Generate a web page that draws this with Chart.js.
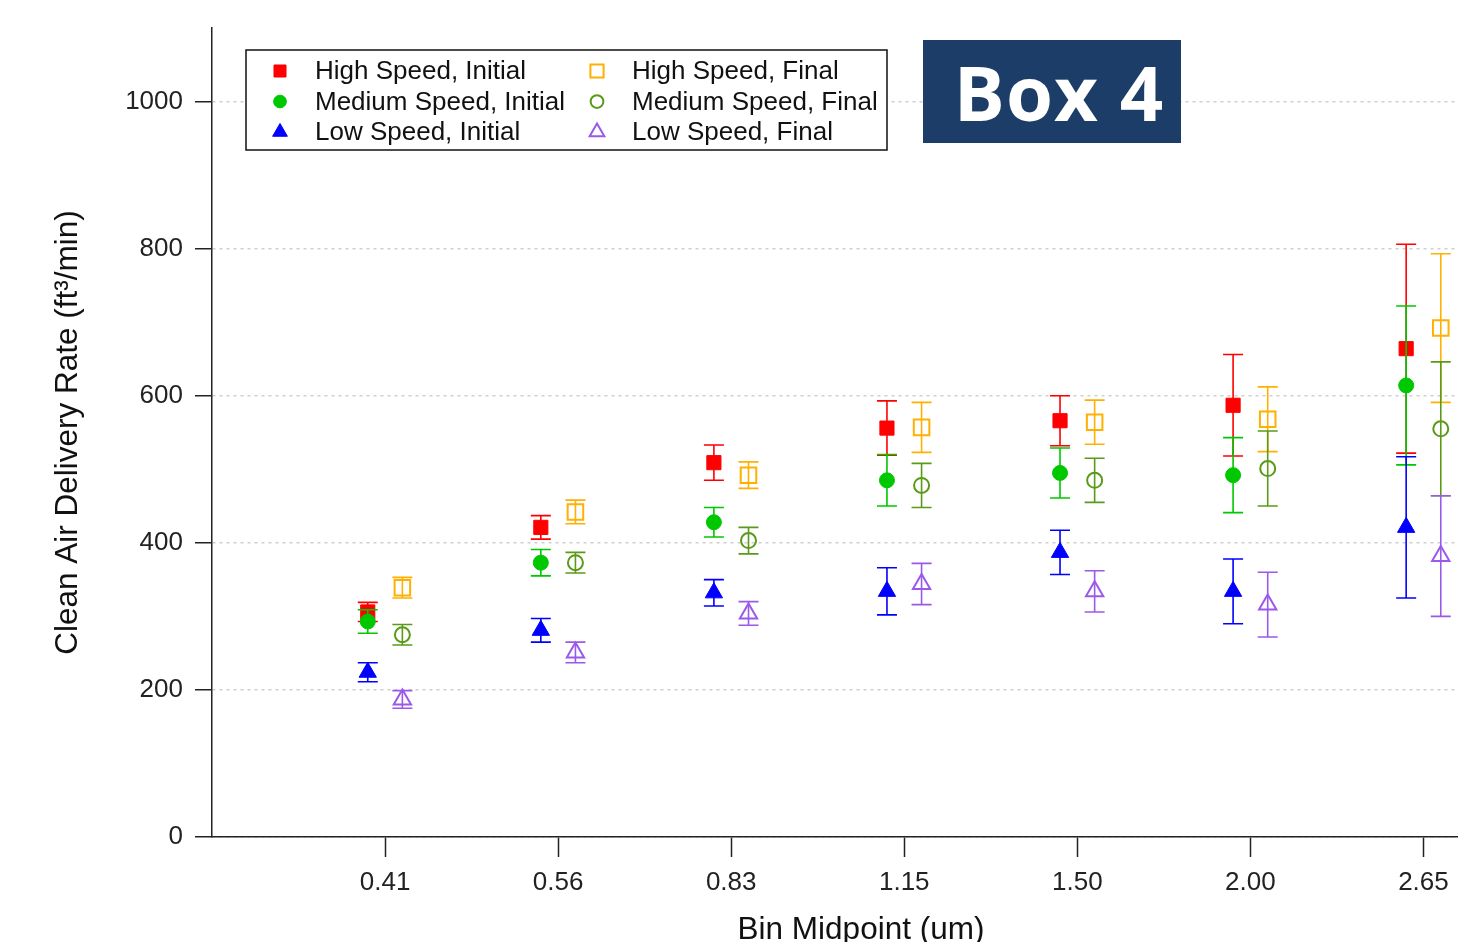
<!DOCTYPE html>
<html>
<head>
<meta charset="utf-8">
<script src="https://cdn.jsdelivr.net/npm/chart.js@4.4.0/dist/chart.umd.min.js"></script>
<style>
html, body { margin: 0; padding: 0; background: #fff; overflow: hidden; }
#wrap { position: relative; width: 1510px; height: 960px; }
#box4 {
    position: absolute; left: 923px; top: 40px; width: 258px; height: 103px;
    box-sizing: border-box; padding-left: 14px;
    background: #1b3d68; color: #fff;
    font: bold 76px "Open Sans", sans-serif;
    display: flex; align-items: center; justify-content: center;
    letter-spacing: 1px;
}
</style>
</head>
<body>
<div id="wrap">
    <canvas id="cadrChart" width="1510" height="960"></canvas>
    <div id="box4">Box 4</div>
</div>
<script>
// bin midpoints (um)
var binLabels = ['0.41', '0.56', '0.83', '1.15', '1.50', '2.00', '2.65'];
var yTickValues = [0, 200, 400, 600, 800, 1000];

// CADR values, with +/- error
var highInitial = [306, 421, 509, 556, 566, 587, 664];
var highInitialErr = [13, 16, 24, 37, 34, 69, 142];
var highFinal = [339, 442, 492, 557, 564, 568, 692];
var highFinalErr = [14, 16, 18, 34, 30, 44, 101];
var medInitial = [293, 373, 428, 485, 495, 492, 614];
var medInitialErr = [16, 18, 20, 35, 34, 51, 108];
var medFinal = [275, 373, 403, 478, 485, 501, 555];
var medFinalErr = [14, 14, 18, 30, 30, 51, 91];
var lowInitial = [224, 281, 332, 334, 387, 334, 421];
var lowInitialErr = [13, 16, 18, 32, 30, 44, 96];
var lowFinal = [187, 251, 304, 344, 334, 316, 382];
var lowFinalErr = [12, 14, 16, 28, 28, 44, 82];

var FONT = '"Liberation Sans", Arial, sans-serif';
Chart.defaults.font.family = FONT;

function points(values, shift) {
    return values.map(function(v, i) {
        return { x: i + 1 + shift, y: v };
    });
}

function series(label, values, errs, shift, style, radius, color, filled) {
    return {
        label: label,
        data: points(values, shift),
        errors: errs,
        errorColor: color,
        pointStyle: style,
        pointRadius: radius,
        pointHoverRadius: radius,
        backgroundColor: filled ? color : 'rgba(0,0,0,0)',
        borderColor: color,
        borderWidth: filled ? 1 : 2,
        showLine: false
    };
}

var RED = '#ff0000', ORANGE = '#ffb000', GREEN = '#00c800',
    OLIVE = '#5a9a18', BLUE = '#0000ff', PURPLE = '#9b59ea';

// order matches the 2-column legend, row by row
var datasets = [
    series('High Speed, Initial', highInitial, highInitialErr, -0.1, 'rect', 10, RED, true),
    series('High Speed, Final', highFinal, highFinalErr, 0.1, 'rect', 11, ORANGE, false),
    series('Medium Speed, Initial', medInitial, medInitialErr, -0.1, 'circle', 7.5, GREEN, true),
    series('Medium Speed, Final', medFinal, medFinalErr, 0.1, 'circle', 7.5, OLIVE, false),
    series('Low Speed, Initial', lowInitial, lowInitialErr, -0.1, 'triangle', 10, BLUE, true),
    series('Low Speed, Final', lowFinal, lowFinalErr, 0.1, 'triangle', 10, PURPLE, false)
];
// draw order: high under medium under low
datasets[0].order = 6; datasets[2].order = 5; datasets[4].order = 4;
datasets[1].order = 3; datasets[3].order = 2; datasets[5].order = 1;

var errorBarPlugin = {
    id: 'errorBars',
    beforeDatasetDraw: function(chart, args) {
        var ds = chart.data.datasets[args.index];
        var yScale = chart.scales.y;
        var c = chart.ctx;
        c.save();
        c.strokeStyle = ds.errorColor;
        c.lineWidth = 1.6;
        args.meta.data.forEach(function(pt, i) {
            var v = ds.data[i].y, e = ds.errors[i];
            var top = yScale.getPixelForValue(v + e);
            var bot = yScale.getPixelForValue(v - e);
            c.beginPath();
            c.moveTo(pt.x, top); c.lineTo(pt.x, bot);
            c.moveTo(pt.x - 10, top); c.lineTo(pt.x + 10, top);
            c.moveTo(pt.x - 10, bot); c.lineTo(pt.x + 10, bot);
            c.stroke();
        });
        c.restore();
    }
};

var legendPlugin = {
    id: 'boxLegend',
    afterDraw: function(chart) {
        var c = chart.ctx;
        var left = 246, top = 50, w = 641, h = 100;
        c.save();
        c.fillStyle = '#fff';
        c.fillRect(left, top, w, h);
        c.lineWidth = 1.5;
        c.strokeStyle = '#111';
        c.strokeRect(left, top, w, h);
        c.font = '26px ' + FONT;
        c.textBaseline = 'middle';
        chart.data.datasets.forEach(function(ds, k) {
            var row = Math.floor(k / 2), col = k % 2;
            var y = 71 + row * 30.5;
            var mx = col === 0 ? 280 : 597;
            c.fillStyle = ds.backgroundColor;
            c.strokeStyle = ds.borderColor;
            c.lineWidth = ds.borderWidth;
            Chart.helpers.drawPoint(c, {
                pointStyle: ds.pointStyle,
                radius: ds.pointRadius * 0.85,
                rotation: 0,
                borderWidth: ds.borderWidth
            }, mx, y);
            c.fillStyle = '#111';
            c.fillText(ds.label, mx + 35, y + 1);
        });
        c.restore();
    }
};

new Chart(document.getElementById('cadrChart'), {
    type: 'scatter',
    data: { datasets: datasets },
    plugins: [errorBarPlugin, legendPlugin],
    options: {
        responsive: false,
        animation: false,
        layout: { autoPadding: false, padding: { top: 28, right: 0, bottom: 0, left: 0 } },
        plugins: { legend: { display: false }, tooltip: { enabled: false } },
        scales: {
            x: {
                type: 'linear',
                min: 0,
                max: 7.5,
                afterBuildTicks: function(s) {
                    s.ticks = binLabels.map(function(_, i) { return { value: i + 1 }; });
                },
                afterFit: function(s) {
                    s.height = 123;
                    s.paddingLeft = 0;
                    s.paddingRight = 0;
                },
                ticks: {
                    callback: function(v, i) { return binLabels[i]; },
                    font: { size: 26 },
                    color: '#222',
                    padding: 10,
                    autoSkip: false,
                    maxRotation: 0
                },
                grid: { drawOnChartArea: false, tickLength: 20, tickColor: '#222', tickWidth: 1.5 },
                border: { color: '#222', width: 1.5 },
                title: {
                    display: true,
                    text: 'Bin Midpoint (um)',
                    font: { size: 31.5 },
                    color: '#111',
                    padding: { top: 0, bottom: 11 }
                }
            },
            y: {
                min: 0,
                max: 1100,
                afterBuildTicks: function(s) {
                    s.ticks = yTickValues.map(function(v) { return { value: v }; });
                },
                afterFit: function(s) { s.width = 212; },
                ticks: {
                    callback: function(v) { return String(v); },
                    font: { size: 26 },
                    color: '#222',
                    padding: 12
                },
                grid: { color: '#cfcfcf', lineWidth: 1.5, tickLength: 17, tickColor: '#222', tickWidth: 1.5 },
                border: { color: '#222', width: 1.5, dash: [3, 4] },
                title: {
                    display: true,
                    text: 'Clean Air Delivery Rate (ft³/min)',
                    font: { size: 31.5 },
                    color: '#111',
                    padding: { top: 49, bottom: 0 }
                }
            }
        }
    }
});
</script>
</body>
</html>
